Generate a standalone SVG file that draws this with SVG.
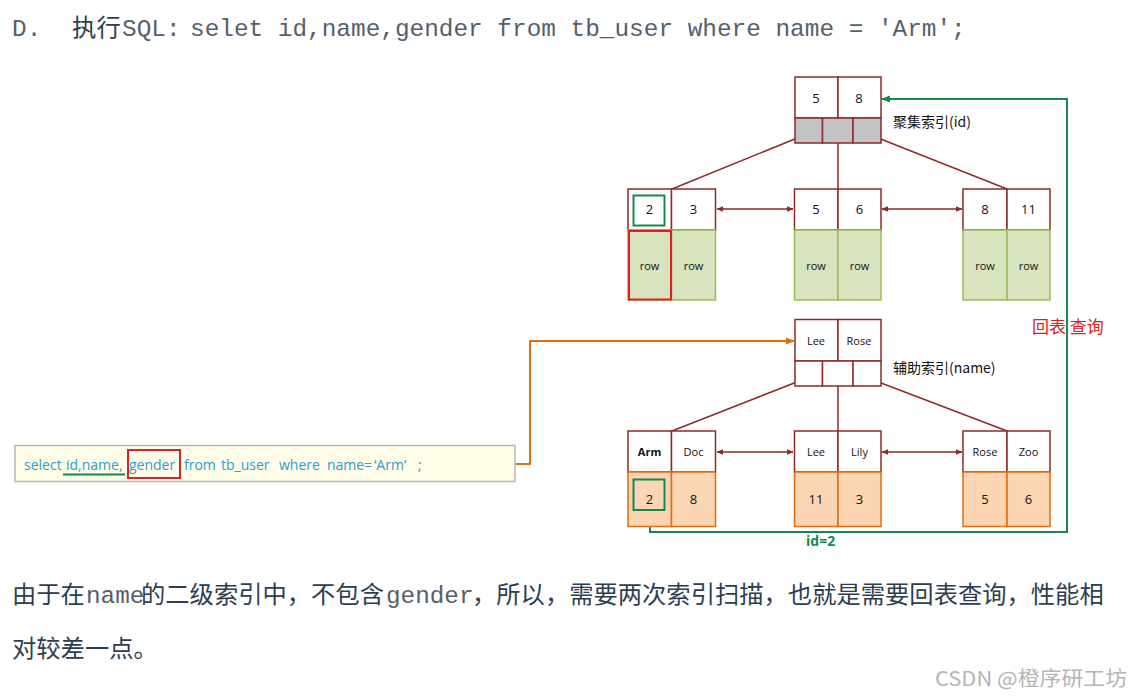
<svg xmlns="http://www.w3.org/2000/svg" width="1130" height="697" viewBox="0 0 1130 697">
<defs>
<marker id="ar" viewBox="0 0 10 10" refX="9" refY="5" markerWidth="7" markerHeight="7" orient="auto-start-reverse" markerUnits="userSpaceOnUse"><path d="M0,1 L10,5 L0,9 z" fill="#8e2a2a"/></marker>
<marker id="ag" viewBox="0 0 10 10" refX="9" refY="5" markerWidth="9" markerHeight="9" orient="auto" markerUnits="userSpaceOnUse"><path d="M0,1 L10,5 L0,9 z" fill="#138a4c"/></marker>
<marker id="ao" viewBox="0 0 10 10" refX="9" refY="5" markerWidth="9" markerHeight="9" orient="auto" markerUnits="userSpaceOnUse"><path d="M0,1 L10,5 L0,9 z" fill="#e0700f"/></marker>
</defs>
<style>
.k{fill:#fff;stroke:#8e2a2a;stroke-width:1.5}
.g{fill:#c3c3c3;stroke:#8e2a2a;stroke-width:1.5}
.w{fill:#fff;stroke:#8e2a2a;stroke-width:1.5}
.r{fill:#d7e4bd;stroke:#9bbb59;stroke-width:1.5}
.o{fill:#fcd5b5;stroke:#e46c0a;stroke-width:1.5}
.t{font-family:"Open Sans","Noto Sans",sans-serif;fill:#111;text-anchor:middle}
.n{font-size:13px}
.s{font-size:11px}
.lab{font-family:"Noto Sans CJK SC","Open Sans",sans-serif;font-size:14px;fill:#111}
.edge{stroke:#8e2a2a;stroke-width:1.5;fill:none}
.mono{font-family:"Liberation Mono","DejaVu Sans Mono",monospace;fill:#56606a}
.cjk{font-family:"Noto Sans CJK SC",sans-serif;fill:#2c3e50}
.sql{font-family:"Open Sans","Noto Sans",sans-serif;font-size:14px;fill:#2e9bd6}
</style>
<rect width="1130" height="697" fill="#fff"/>

<g id="title">
<text y="36" font-size="24.4"><tspan x="12" class="mono">D.</tspan><tspan x="72" class="cjk">执行</tspan><tspan x="122" class="mono">SQL:</tspan><tspan x="190" class="mono">selet id,name,gender from tb_user where name = 'Arm';</tspan></text>
</g>

<g id="connectors">
<line class="edge" x1="807" y1="134" x2="672" y2="189"/>
<line class="edge" x1="838" y1="134" x2="838" y2="189"/>
<line class="edge" x1="868" y1="134" x2="1007" y2="189"/>
<line class="edge" x1="807" y1="378" x2="672" y2="431"/>
<line class="edge" x1="838" y1="373" x2="838" y2="431"/>
<line class="edge" x1="868" y1="378" x2="1007" y2="431"/>
<line class="edge" x1="717" y1="209" x2="793" y2="209" marker-start="url(#ar)" marker-end="url(#ar)"/>
<line class="edge" x1="882" y1="209" x2="962" y2="209" marker-start="url(#ar)" marker-end="url(#ar)"/>
<line class="edge" x1="717" y1="452" x2="793" y2="452" marker-start="url(#ar)" marker-end="url(#ar)"/>
<line class="edge" x1="882" y1="452" x2="962" y2="452" marker-start="url(#ar)" marker-end="url(#ar)"/>
<polyline points="650,510 650,532 1067,532 1067,99 882,99" fill="none" stroke="#138a4c" stroke-width="2" marker-end="url(#ag)"/>
<polyline points="515,464 530,464 530,341 794,341" fill="none" stroke="#e0700f" stroke-width="2" marker-end="url(#ao)"/>
</g>

<g id="root-clustered">
<rect class="k" x="795" y="77" width="43" height="41"/>
<rect class="k" x="838" y="77" width="43" height="41"/>
<rect class="g" x="795" y="118" width="27.5" height="25"/>
<rect class="g" x="822.5" y="118" width="30.5" height="25"/>
<rect class="g" x="853" y="118" width="28" height="25"/>
<text class="t n" x="816" y="103">5</text>
<text class="t n" x="859" y="103">8</text>
<text class="lab" x="893" y="127">聚集索引(id)</text>
</g>

<g id="leaf-c1">
<rect class="k" x="628" y="189" width="43.5" height="41"/>
<rect class="k" x="671.5" y="189" width="44" height="41"/>
<rect class="r" x="628" y="230" width="43.5" height="70"/>
<rect class="r" x="671.5" y="230" width="44" height="70"/>
<rect x="633.5" y="195.5" width="31" height="30" fill="none" stroke="#138a4c" stroke-width="2"/>
<rect x="629" y="231" width="42" height="68.5" fill="none" stroke="#e02020" stroke-width="2"/>
<text class="t n" x="649.5" y="214">2</text>
<text class="t n" x="693.5" y="214">3</text>
<text class="t s" x="649.5" y="270">row</text>
<text class="t s" x="693.5" y="270">row</text>
</g>

<g id="leaf-c2">
<rect class="k" x="794.5" y="189" width="43.5" height="41"/>
<rect class="k" x="838" y="189" width="43" height="41"/>
<rect class="r" x="794.5" y="230" width="43.5" height="70"/>
<rect class="r" x="838" y="230" width="43" height="70"/>
<text class="t n" x="816" y="214">5</text>
<text class="t n" x="859.5" y="214">6</text>
<text class="t s" x="816" y="270">row</text>
<text class="t s" x="859.5" y="270">row</text>
</g>

<g id="leaf-c3">
<rect class="k" x="963" y="189" width="44" height="41"/>
<rect class="k" x="1007" y="189" width="43" height="41"/>
<rect class="r" x="963" y="230" width="44" height="70"/>
<rect class="r" x="1007" y="230" width="43" height="70"/>
<text class="t n" x="985" y="214">8</text>
<text class="t n" x="1028.5" y="214">11</text>
<text class="t s" x="985" y="270">row</text>
<text class="t s" x="1028.5" y="270">row</text>
</g>

<g id="root-secondary">
<rect class="k" x="795" y="319.5" width="43" height="41.5"/>
<rect class="k" x="838" y="319.5" width="43" height="41.5"/>
<rect class="w" x="795" y="361" width="27.5" height="25"/>
<rect class="w" x="822.5" y="361" width="30.5" height="25"/>
<rect class="w" x="853" y="361" width="28" height="25"/>
<text class="t s" x="816" y="345">Lee</text>
<text class="t s" x="859" y="345">Rose</text>
<text class="lab" x="893" y="373">辅助索引(name)</text>
</g>

<g id="leaf-s1">
<rect class="k" x="628" y="431" width="43.5" height="41"/>
<rect class="k" x="671.5" y="431" width="44" height="41"/>
<rect class="o" x="628" y="472" width="43.5" height="54.5"/>
<rect class="o" x="671.5" y="472" width="44" height="54.5"/>
<rect x="633.5" y="479.5" width="31" height="30.5" fill="none" stroke="#138a4c" stroke-width="2"/>
<text class="t s" x="649.5" y="456" font-weight="bold">Arm</text>
<text class="t s" x="693.5" y="456">Doc</text>
<text class="t n" x="649.5" y="504">2</text>
<text class="t n" x="693.5" y="504">8</text>
</g>

<g id="leaf-s2">
<rect class="k" x="794.5" y="431" width="43.5" height="41"/>
<rect class="k" x="838" y="431" width="43" height="41"/>
<rect class="o" x="794.5" y="472" width="43.5" height="54.5"/>
<rect class="o" x="838" y="472" width="43" height="54.5"/>
<text class="t s" x="816" y="456">Lee</text>
<text class="t s" x="859.5" y="456">Lily</text>
<text class="t n" x="816" y="504">11</text>
<text class="t n" x="859.5" y="504">3</text>
</g>

<g id="leaf-s3">
<rect class="k" x="963" y="431" width="44" height="41"/>
<rect class="k" x="1007" y="431" width="43" height="41"/>
<rect class="o" x="963" y="472" width="44" height="54.5"/>
<rect class="o" x="1007" y="472" width="43" height="54.5"/>
<text class="t s" x="985" y="456">Rose</text>
<text class="t s" x="1028.5" y="456">Zoo</text>
<text class="t n" x="985" y="504">5</text>
<text class="t n" x="1028.5" y="504">6</text>
</g>

<g id="labels">
<text x="1032" y="333" font-family="Noto Sans CJK SC,sans-serif" font-size="17" fill="#e02020">回表 查询</text>
<text x="806" y="546" font-family="Open Sans,Noto Sans,sans-serif" font-size="14" fill="#138a4c" font-weight="bold">id=2</text>
</g>

<g id="sql-box">
<rect x="15" y="445.5" width="500" height="36" fill="#fffde8" stroke="#b8b8b8" stroke-width="1.5"/>
<text class="sql" y="470"><tspan x="24">select</tspan><tspan x="66">id,name,</tspan><tspan x="129">gender</tspan><tspan x="184">from</tspan><tspan x="221">tb_user</tspan><tspan x="279">where</tspan><tspan x="327">name</tspan><tspan x="364">=</tspan><tspan x="374">‘Arm’</tspan><tspan x="418">;</tspan></text>
<line x1="63" y1="474.5" x2="125" y2="474.5" stroke="#138a4c" stroke-width="2"/>
<rect x="128" y="450" width="52" height="28" fill="none" stroke="#e02020" stroke-width="2"/>
</g>

<g id="paragraph">
<text y="603" font-size="24.3"><tspan x="12" class="cjk">由于在</tspan><tspan x="86" class="mono">name</tspan><tspan x="141" class="cjk">的二级索引中，不包含</tspan><tspan x="386" class="mono">gender</tspan><tspan x="472" class="cjk">，所以，需要两次索引扫描，也就是需要回表查询，性能相</tspan></text>
<text y="657" font-size="24.3"><tspan x="12" class="cjk">对较差一点。</tspan></text>
</g>

<g id="watermark">
<text x="935" y="686" font-family="Noto Sans CJK SC,sans-serif" font-size="20" fill="#b5b5b5" textLength="192" lengthAdjust="spacingAndGlyphs">CSDN @橙序研工坊</text>
</g>
</svg>
